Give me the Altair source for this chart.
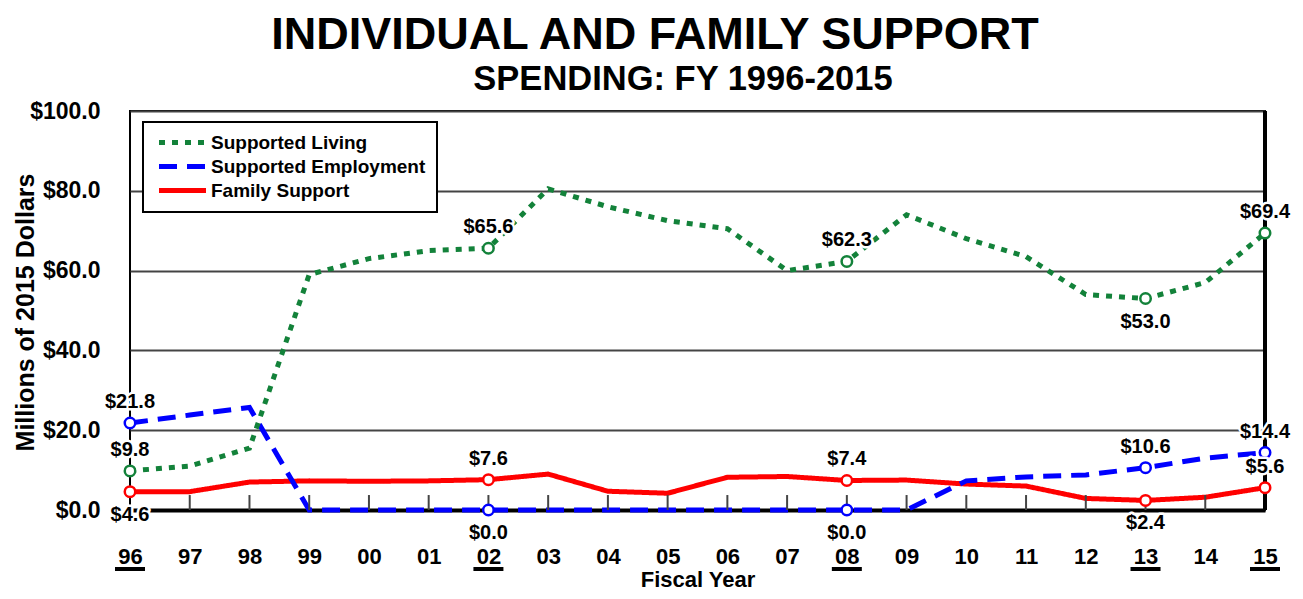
import altair as alt
import pandas as pd

# ---------------- data ----------------
years = list(range(1996, 2016))
supported_living = [9.8, 11.0, 15.5, 59.0, 63.0, 65.0, 65.6, 80.5, 76.0, 72.5,
                    70.5, 60.0, 62.3, 74.0, 68.0, 63.5, 54.0, 53.0, 57.0, 69.4]
supported_employment = [21.8, 23.8, 25.7, 0.0, 0.0, 0.0, 0.0, 0.0, 0.0, 0.0,
                        0.0, 0.0, 0.0, 0.0, 7.3, 8.3, 8.8, 10.6, 13.0, 14.4]
family_support = [4.6, 4.6, 7.0, 7.3, 7.2, 7.3, 7.6, 9.0, 4.7, 4.2,
                  8.2, 8.4, 7.4, 7.5, 6.5, 6.0, 2.9, 2.4, 3.2, 5.6]

series_names = ["Supported Living", "Supported Employment", "Family Support"]
series_colors = ["#13823a", "#0000ff", "#ff0000"]
series_dashes = [[6, 7], [18, 10], [1, 0]]

marker_years = [1996, 2002, 2008, 2013, 2015]
label_sides = {
    "Supported Living": ["above", "above", "above", "below", "above"],
    "Supported Employment": ["above", "below", "below", "above", "above"],
    "Family Support": ["below", "above", "above", "below", "above"],
}
inner_tick_years = years[1:-1]
underlined_years = marker_years

title_text = "INDIVIDUAL AND FAMILY SUPPORT"
subtitle_text = "SPENDING: FY 1996-2015"
y_title = "Millions of 2015 Dollars"
x_title = "Fiscal Year"
y_ticks = [0, 20, 40, 60, 80, 100]

FONT = "Liberation Sans"
W, H = 1135, 399

# ---------------- tables ----------------
series_values = {
    "Supported Living": supported_living,
    "Supported Employment": supported_employment,
    "Family Support": family_support,
}
line_rows = []
for name in ["Family Support", "Supported Employment", "Supported Living"]:
    for yr, v in zip(years, series_values[name]):
        line_rows.append({"year": yr, "value": v, "series": name})
lines_df = pd.DataFrame(line_rows)

marker_rows = []
for name in series_names:
    for yr, side in zip(marker_years, label_sides[name]):
        v = series_values[name][years.index(yr)]
        marker_rows.append({"year": yr, "value": v, "series": name, "side": side})
markers_df = pd.DataFrame(marker_rows)

ticks_df = pd.DataFrame({"year": inner_tick_years})
under_df = pd.DataFrame({"year": underlined_years})
titles_df = pd.DataFrame({"t": [title_text]})
sub_df = pd.DataFrame({"t": [subtitle_text]})
edge_df = pd.DataFrame({"year": [years[-1]]})

color_scale = alt.Scale(domain=series_names, range=series_colors)
dash_scale = alt.Scale(domain=series_names, range=series_dashes)

x_enc = alt.X(
    "year:Q",
    scale=alt.Scale(domain=[years[0], years[-1]], nice=False, zero=False),
    axis=alt.Axis(
        values=years, format="d", labelExpr="slice(datum.label, 2)",
        ticks=False, grid=False, domainColor="black", domainWidth=4,
        labelFont=FONT, labelFontSize=22, labelFontWeight="bold", labelColor="black",
        labelPadding=36, labelFlush=False,
        titleFont=FONT, titleFontSize=22, titleFontWeight="bold", titleColor="black",
        titleY=76, titleBaseline="alphabetic",
    ),
    title=x_title,
)
y_enc = alt.Y(
    "value:Q",
    scale=alt.Scale(domain=[0, 100], nice=False),
    axis=alt.Axis(
        values=y_ticks, format="$.1f", ticks=False, domain=False,
        grid=True, gridColor="#444444", gridWidth=2,
        labelFont=FONT, labelFontSize=23, labelFontWeight="bold", labelColor="black",
        labelPadding=30,
        titleFont=FONT, titleFontSize=25, titleFontWeight="bold", titleColor="black",
        titleX=-105, titleY=201, titleAngle=270, titleAlign="center", titleBaseline="middle",
    ),
    title=y_title,
)

legend = alt.Legend(
    orient="none", legendX=13, legendY=11, direction="vertical",
    symbolType="M-4.7,0H4.7", symbolStrokeWidth=5, symbolSize=100,
    symbolFillColor="transparent", symbolOffset=19,
    labelFont=FONT, labelFontSize=19, labelFontWeight="bold", labelColor="black",
    labelOffset=19, rowPadding=3, padding=11,
    strokeColor="black", fillColor="white", labelLimit=400,
)

lines = alt.Chart(lines_df).mark_line(strokeWidth=5, strokeCap="butt").encode(
    x=x_enc,
    y=y_enc,
    color=alt.Color("series:N", scale=color_scale, title=None, legend=legend),
    strokeDash=alt.StrokeDash("series:N", scale=dash_scale, title=None, legend=legend),
)

inner_ticks = alt.Chart(ticks_df).mark_rule(color="#444444", strokeWidth=2).encode(
    x="year:Q", y=alt.datum(0), y2=alt.datum(3.75)
)

right_edge = alt.Chart(edge_df).mark_rule(color="black", strokeWidth=4).encode(
    x="year:Q", y=alt.datum(0), y2=alt.datum(100)
)

points = alt.Chart(markers_df).mark_point(
    shape="circle", filled=True, fill="white", size=110, strokeWidth=2.5, opacity=1
).encode(
    x="year:Q", y="value:Q",
    stroke=alt.Stroke("series:N", scale=color_scale, legend=None),
)

label_common = dict(font=FONT, fontSize=20, fontWeight="bold", align="center", baseline="middle")
labels = []
for side, dy in [("above", -21), ("below", 23)]:
    sub = alt.Chart(markers_df).transform_filter(alt.datum.side == side)
    halo = sub.mark_text(dy=dy, stroke="white", strokeWidth=5, strokeJoin="round",
                         fill="white", **label_common).encode(
        x="year:Q", y="value:Q", text=alt.Text("value:Q", format="$.1f"))
    txt = sub.mark_text(dy=dy, color="black", **label_common).encode(
        x="year:Q", y="value:Q", text=alt.Text("value:Q", format="$.1f"))
    labels += [halo, txt]

underline = alt.Chart(under_df).mark_rule(
    color="black", strokeWidth=4, xOffset=-15, x2Offset=15
).encode(x="year:Q", x2="year:Q", y=alt.value(H + 59))

main_title = alt.Chart(titles_df).mark_text(
    font=FONT, fontSize=45, fontWeight="bold", color="black",
    align="center", baseline="alphabetic"
).encode(x=alt.value(525), y=alt.value(-62), text="t:N")

subtitle = alt.Chart(sub_df).mark_text(
    font=FONT, fontSize=34.5, fontWeight="bold", color="black",
    align="center", baseline="alphabetic"
).encode(x=alt.value(553), y=alt.value(-21), text="t:N")

chart = alt.layer(
    lines, inner_ticks, right_edge, points, *labels, underline, main_title, subtitle
).properties(
    width=W, height=H,
    autosize=alt.AutoSizeParams(type="none"),
    padding={"left": 122, "top": 103, "right": 30, "bottom": 81},
).configure_view(
    stroke="black", strokeWidth=2
).configure_legend(
    strokeWidth=2
)

chart.save("out.html", embed_options={"renderer": "svg", "actions": False})
